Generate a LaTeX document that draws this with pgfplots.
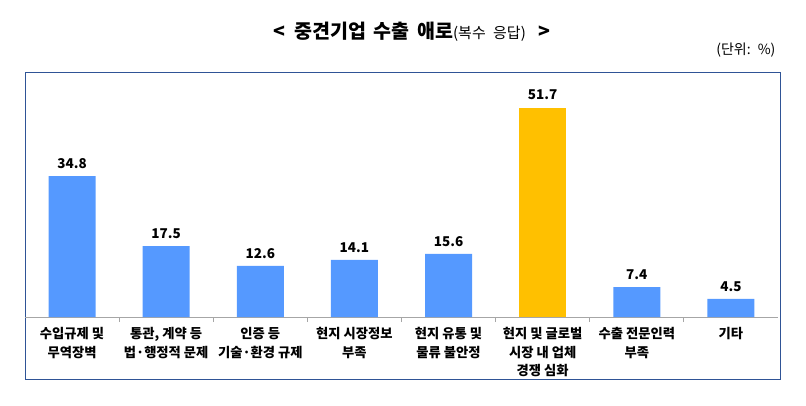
\documentclass[border=0pt]{standalone}
\usepackage{pgfplots}
\pgfplotsset{compat=1.18}
\usepackage{fontspec}
\setmainfont{Noto Sans CJK KR}
\definecolor{barblue}{HTML}{5599FF}
\definecolor{baryel}{HTML}{FFC000}
\definecolor{frameblue}{HTML}{2F5496}
\definecolor{axgray}{HTML}{A6A6A6}
\begin{document}
\begin{tikzpicture}[x=1bp,y=1bp]
\path (0,0) rectangle (806,405);
\draw[frameblue, line width=1bp] (25,26) rectangle (780,333);
\node[anchor=center] at (412,373) {\fontsize{19.5bp}{22bp}\selectfont\bfseries <\hspace{9bp}중견기업\hspace{3bp} 수출\hspace{3bp} 애로{\mdseries\fontsize{15bp}{17bp}\selectfont(복수\hspace{4bp} 응답)}\hspace{8bp} >};
\node[anchor=east] at (779,355) {\fontsize{14bp}{16bp}\selectfont(단위:\hspace{3bp} \%)};
\begin{axis}[
  at={(25bp,88bp)}, anchor=south west,
  scale only axis, width=753bp, height=245bp,
  xmin=-0.5, xmax=7.5, ymin=0, ymax=60.5,
  axis x line=bottom, axis y line=none,
  axis line style={axgray, line width=0.8bp, -},
  xtick={0,...,7},
  xticklabels={{수입규제 및\\무역장벽},{통관, 계약 등\\법·행정적 문제},{인증 등\\기술·환경 규제},{현지 시장정보\\부족},{현지 유통 및\\물류 불안정},{현지 및 글로벌\\시장 내 업체\\경쟁 심화},{수출 전문인력\\부족},{기타}},
  xticklabel style={align=center, anchor=north, font=\fontsize{13.3bp}{18.5bp}\selectfont\bfseries, yshift=-7bp},
  major tick length=0pt,
  minor xtick={0.5,1.5,...,6.5},
  minor tick length=5bp,
  tick align=outside,
  minor x tick style={axgray, line width=0.8bp},
  ybar, bar width=47bp,
  nodes near coords,
  nodes near coords style={font=\fontsize{13.5bp}{15bp}\selectfont\bfseries, black, yshift=4bp, /pgf/number format/fixed, /pgf/number format/precision=1, /pgf/number format/fixed zerofill},
  /pgf/number format/assume math mode=true,
  clip=false,
]
\addplot[fill=barblue, draw=none, bar shift=0pt] coordinates {(0,34.8) (1,17.5) (2,12.6) (3,14.1) (4,15.6) (6,7.4) (7,4.5)};
\addplot[fill=baryel, draw=none, bar shift=0pt] coordinates {(5,51.7)};
\end{axis}
\end{tikzpicture}
\end{document}
